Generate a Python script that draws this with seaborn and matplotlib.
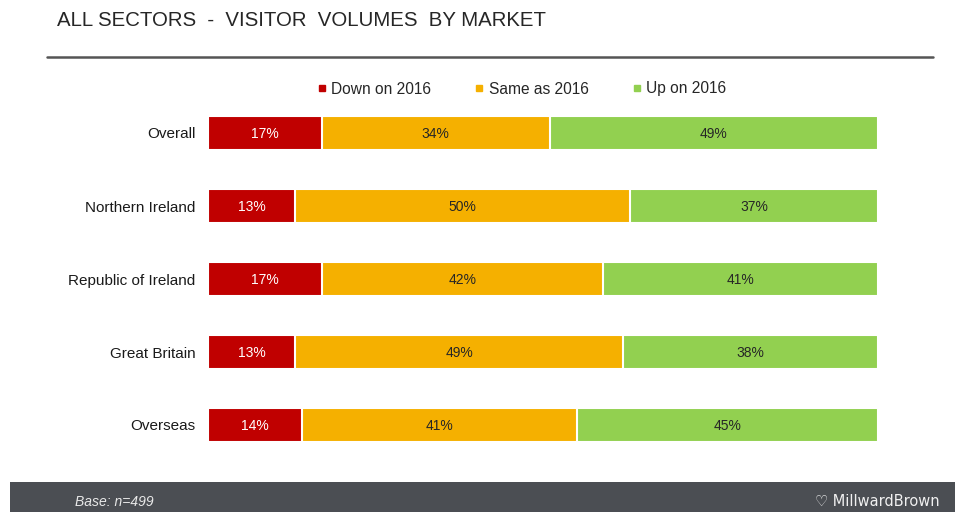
import pandas as pd
import numpy as np
import matplotlib.pyplot as plt
import seaborn as sns
from matplotlib.patches import Rectangle
from matplotlib.lines import Line2D

# data
markets = ["Overall", "Northern Ireland", "Republic of Ireland", "Great Britain", "Overseas"]
down = [17, 13, 17, 13, 14]
same = [34, 50, 42, 49, 41]
up = [49, 37, 41, 38, 45]
series = ["Down on 2016", "Same as 2016", "Up on 2016"]
colors = ["#c00000", "#f5b000", "#92d050"]

sns.set_theme(style="white")
plt.rcParams['font.family'] = ['Liberation Sans', 'DejaVu Sans']

df = pd.DataFrame({"market": markets, "down": down, "same": same, "up": up})
df["c_same"] = df["down"] + df["same"]
df["c_up"] = df["c_same"] + df["up"]

fig = plt.figure(figsize=(9.55, 5.12), dpi=100)
ax = fig.add_axes([208/955, 1 - 461.5/512, 670/955, 365/512])

# stacked bars drawn back to front (cumulative)
for col, c in zip(["c_up", "c_same", "down"], colors[::-1]):
    sns.barplot(data=df, x=col, y="market", color=c, width=0.47,
                edgecolor="white", linewidth=1.5, saturation=1, ax=ax)

# labels in segment centres
for i, row in df.iterrows():
    starts = [0, row["down"], row["c_same"]]
    vals = [row["down"], row["same"], row["up"]]
    for j, (s, v) in enumerate(zip(starts, vals)):
        ax.text(s + v / 2, i + 0.02, f"{v}%", ha="center", va="center", fontsize=10,
                color="white" if j == 0 else "#262626")

ax.set_xlim(0, 100)
ax.set_ylim(4.5, -0.5)
ax.set_xlabel("")
ax.set_ylabel("")
ax.set_xticks([])
ax.tick_params(axis="y", length=0, pad=9, labelsize=11, labelcolor="#1a1a1a")
sns.despine(ax=ax, left=True, bottom=True)

# legend
handles = [Line2D([], [], marker="s", linestyle="", markersize=5, color=c) for c in colors]
fig.legend(handles, series, loc="center", bbox_to_anchor=(521/955, 1 - 89/512),
           ncol=3, frameon=False, fontsize=11.2, handletextpad=0.2, columnspacing=2.7,
           handlelength=0.8)

# title and rule
fig.text(57/955, 1 - 20/512, "ALL SECTORS  -  VISITOR  VOLUMES  BY MARKET",
         fontsize=14.7, color="#262626", va="center", ha="left")
fig.add_artist(Line2D([47/955, 933/955], [1 - 57/512, 1 - 57/512], color="#555555",
                      linewidth=1.8, transform=fig.transFigure))

# footer band
fig.add_artist(Rectangle((10/955, 0), 945/955, 30/512, transform=fig.transFigure,
                         facecolor="#4b4e53", edgecolor="none"))
fig.text(75/955, 1 - 502/512, "Base: n=499", fontsize=10, style="italic",
         color="#e8e8e8", va="center", ha="left")
fig.text(940/955, 1 - 501/512, "\u2661 MillwardBrown", fontsize=10.5,
         color="#f0f0f0", va="center", ha="right", family=["DejaVu Sans"])

fig.savefig("out.png", dpi=100)
